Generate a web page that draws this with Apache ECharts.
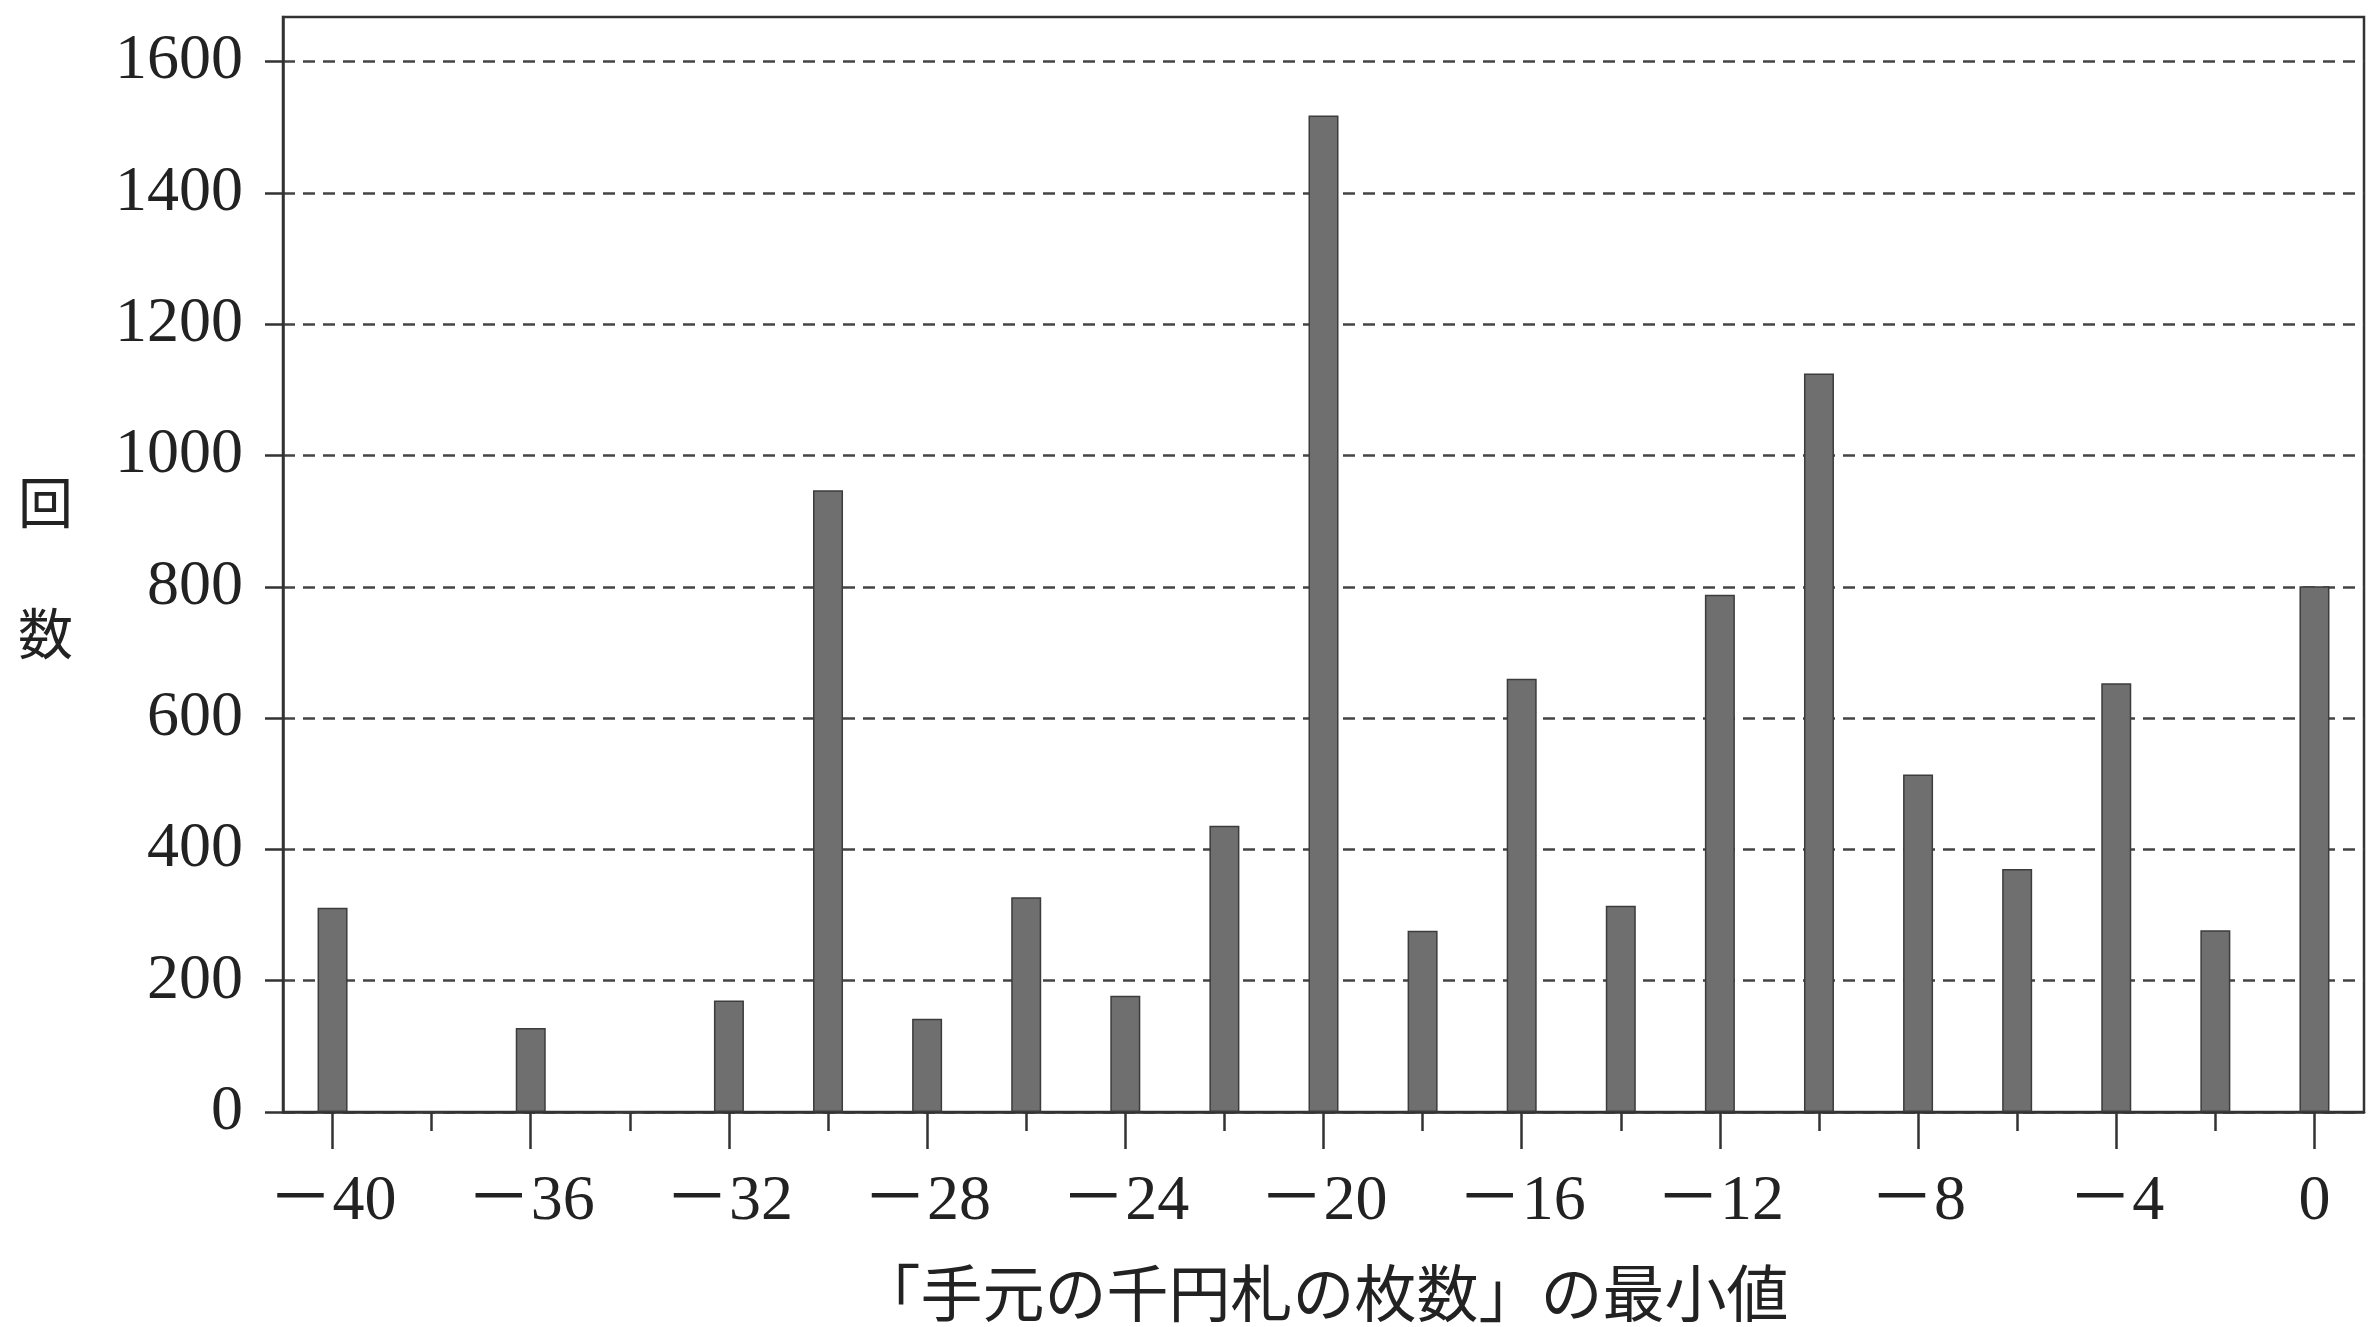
<!DOCTYPE html>
<html>
<head>
<meta charset="utf-8">
<script src="https://cdn.jsdelivr.net/npm/echarts@6/dist/echarts.min.js"></script>
<style>
html,body{margin:0;padding:0;background:#fff;}
#chart{width:2379px;height:1327px;}
</style>
</head>
<body>
<div id="chart"></div>
<script>
const categories = [-40,-38,-36,-34,-32,-30,-28,-26,-24,-22,-20,-18,-16,-14,-12,-10,-8,-6,-4,-2,0];
const counts = [311,0,128,0,170,947,142,327,177,436,1518,276,660,314,788,1125,514,370,653,277,801];
const yTicks = [0,200,400,600,800,1000,1200,1400,1600];
const xAxisTitle = '「手元の千円札の枚数」の最小値';
const yAxisTitle = '回\n数';

const chart = echarts.init(document.getElementById('chart'));
const serif = "'Liberation Serif', 'Noto Sans CJK JP', serif";
const catLabels = categories.map(v => v < 0 ? '－' + Math.abs(v) : String(v));

chart.setOption({
  animation: false,
  backgroundColor: '#fff',
  grid: {left: 283, right: 15, top: 17, bottom: 215, outerBoundsMode: 'none', containLabel: false,
         show: true, borderColor: '#333', borderWidth: 2.5, backgroundColor: 'transparent'},
  xAxis: [
    {
      type: 'category', data: catLabels, position: 'bottom',
      axisLine: {show: true, lineStyle: {color: '#333', width: 2.5}},
      axisTick: {show: true, alignWithLabel: true, interval: 1, length: 37, lineStyle: {color: '#333', width: 2.5}},
      axisLabel: {interval: 1, margin: 58, fontSize: 64, color: '#222', fontFamily: serif},
      name: xAxisTitle, nameLocation: 'middle', nameGap: 150,
      nameTextStyle: {fontSize: 62, color: '#222', fontFamily: "'Noto Sans CJK JP', sans-serif"}
    },
    {
      type: 'category', data: catLabels, position: 'bottom', gridIndex: 0,
      axisLine: {show: false},
      axisTick: {show: true, alignWithLabel: true, interval: 0, length: 19, lineStyle: {color: '#333', width: 2.5}},
      axisLabel: {show: false}
    }
  ],
  yAxis: {
    type: 'value', min: 0, max: 1668, interval: 200,
    axisLine: {show: true, lineStyle: {color: '#333', width: 2.5}},
    axisTick: {show: true, length: 18, customValues: yTicks, lineStyle: {color: '#333', width: 2.5}},
    axisLabel: {margin: 40, fontSize: 64, color: '#222', fontFamily: serif, customValues: yTicks,
                formatter: v => String(v)},
    splitLine: {show: true, lineStyle: {color: '#444', width: 2.5, type: [12, 8]}}
  },
  graphic: [{
    type: 'text', left: 18, top: 437,
    style: {text: yAxisTitle, fontSize: 55, lineHeight: 131, fill: '#222', fontFamily: "'Noto Sans CJK JP', sans-serif", textAlign: 'left'}
  }],
  series: [{
    type: 'bar', data: counts, xAxisIndex: 0, barWidth: 30,
    itemStyle: {color: '#6f6f6f', borderColor: '#3c3c3c', borderWidth: 1.5}
  }]
});
</script>
</body>
</html>
